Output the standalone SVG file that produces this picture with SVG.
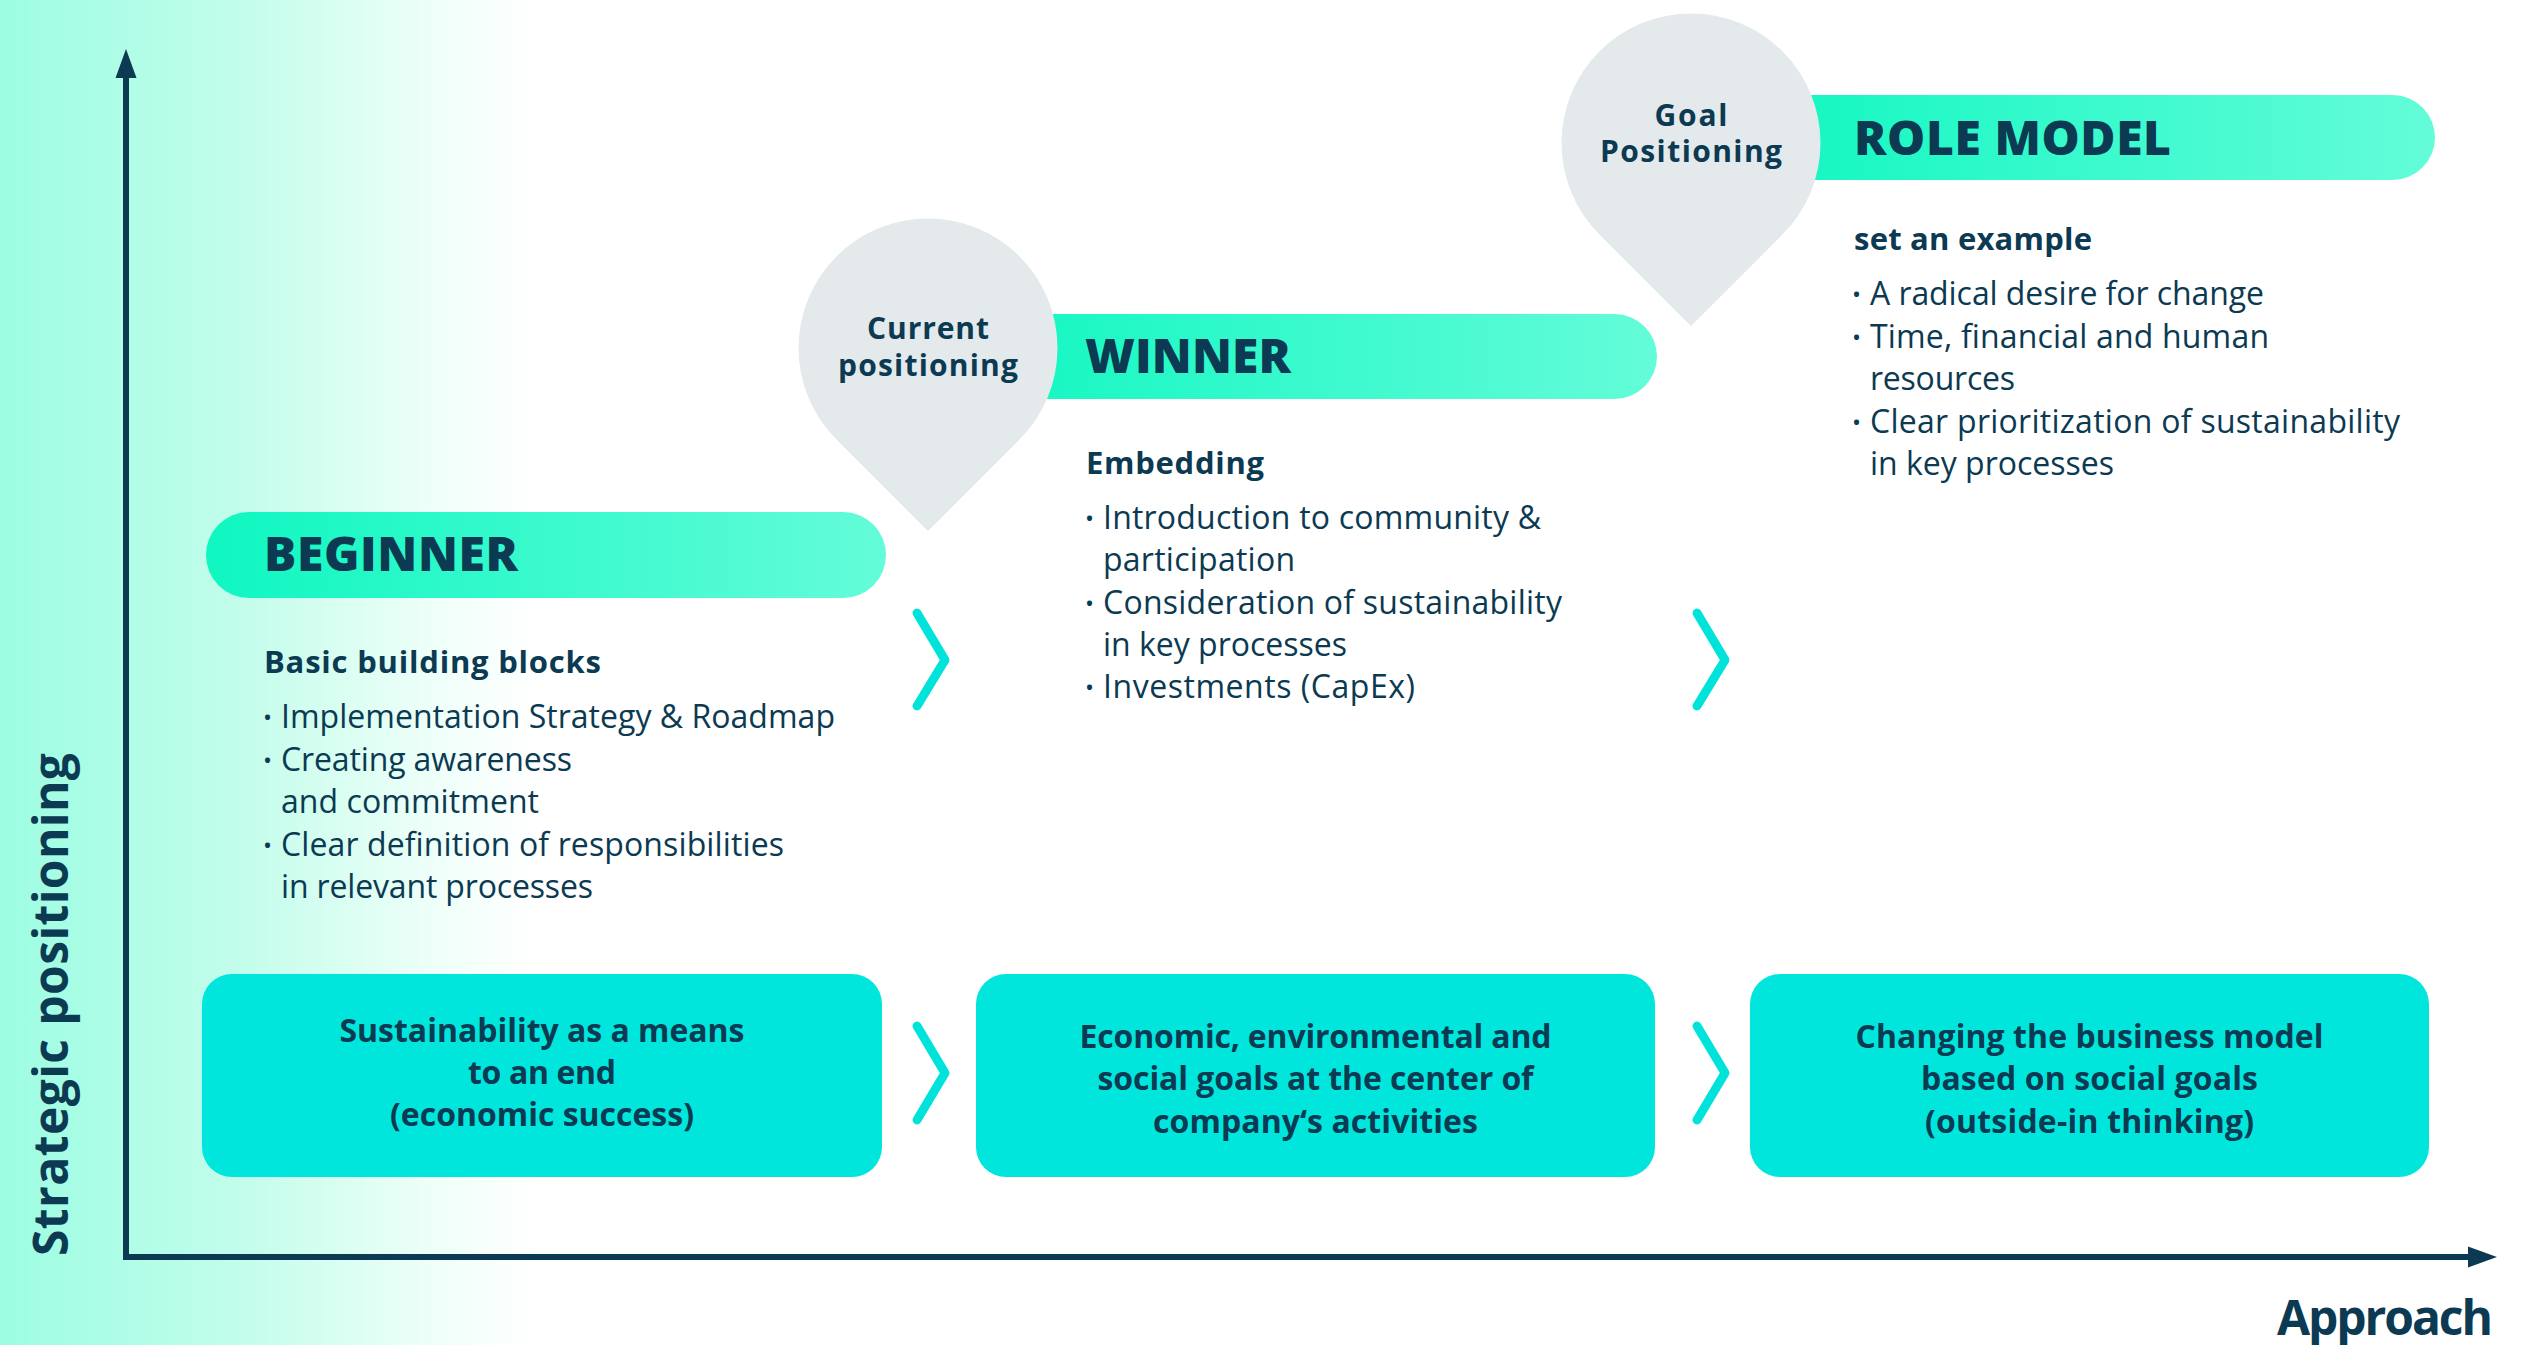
<svg xmlns="http://www.w3.org/2000/svg" width="2540" height="1345" viewBox="0 0 2540 1345">
<defs>
  <linearGradient id="bg" gradientUnits="userSpaceOnUse" x1="0" y1="0" x2="540" y2="0">
    <stop offset="0" stop-color="#9cfde2"/>
    <stop offset="0.45" stop-color="#c3fdeb"/>
    <stop offset="0.8" stop-color="#eefff9"/>
    <stop offset="1" stop-color="#ffffff"/>
  </linearGradient>
  <linearGradient id="pill" x1="0" y1="0" x2="1" y2="0">
    <stop offset="0" stop-color="#0ff7c1"/>
    <stop offset="1" stop-color="#64fcd9"/>
  </linearGradient>
  <marker id="ah" markerUnits="userSpaceOnUse" markerWidth="30" markerHeight="22" viewBox="0 -11 30 22" refX="1" refY="0" orient="auto">
    <path d="M0,-10.5 L29,0 L0,10.5 Z" fill="#0b3a52"/>
  </marker>
</defs>
<style>
  .t{fill:#0b3a52;font-family:'Open Sans','Noto Sans','Liberation Sans',sans-serif}
  .title{font-size:48px;font-weight:800}
  .head{font-size:31px;font-weight:700}
  .body{font-size:32px;font-weight:400}
  .dot{font-size:24px;font-weight:400}
  .box{font-size:32px;font-weight:700;text-anchor:middle}
  .pint{font-size:30px;font-weight:700;text-anchor:middle}
  .axl{font-size:48px;font-weight:700}
  .pillr{fill:url(#pill)}
  .pin{fill:#e4e9ec}
  .card{fill:#00e6dc}
  .chev{fill:none;stroke:#00e3da;stroke-width:9;stroke-linecap:round;stroke-linejoin:round}
  .axis{fill:none;stroke:#0b3a52;stroke-width:6}
</style>
<rect x="0" y="0" width="2540" height="1345" fill="#ffffff"/>
<rect x="0" y="0" width="540" height="1345" fill="url(#bg)"/>

<g id="axes">
  <path class="axis" d="M126,1260 L126,77" marker-end="url(#ah)"/>
  <path class="axis" d="M123,1257 L2469,1257" marker-end="url(#ah)"/>
  <text class="t axl" transform="translate(68,1256) rotate(-90)" x="0" y="0" textLength="503">Strategic positioning</text>
  <text class="t axl" x="2277" y="1335" font-size="45" textLength="216">Approach</text>
</g>

<g id="beginner">
  <rect class="pillr" x="206" y="512" width="680" height="86" rx="43"/>
  <text class="t title" x="264" y="571" textLength="254">BEGINNER</text>
  <text class="t head" x="264" y="673" textLength="337">Basic building blocks</text>
  <text class="t dot" x="263" y="726">•</text>
  <text class="t body" x="281" y="728" textLength="554">Implementation Strategy &amp; Roadmap</text>
  <text class="t dot" x="263" y="769">•</text>
  <text class="t body" x="281" y="771" textLength="291">Creating awareness</text>
  <text class="t body" x="281" y="813" textLength="258">and commitment</text>
  <text class="t dot" x="263" y="854">•</text>
  <text class="t body" x="281" y="856" textLength="503">Clear definition of responsibilities</text>
  <text class="t body" x="281" y="898" textLength="312">in relevant processes</text>
</g>

<g id="winner">
  <rect class="pillr" x="960" y="314" width="697" height="85" rx="42.5"/>
  <text class="t title" x="1085" y="373" textLength="206">WINNER</text>
  <text class="t head" x="1086" y="474" textLength="178">Embedding</text>
  <text class="t dot" x="1085" y="527">•</text>
  <text class="t body" x="1103" y="529" textLength="438">Introduction to community &amp;</text>
  <text class="t body" x="1103" y="571" textLength="192">participation</text>
  <text class="t dot" x="1085" y="612">•</text>
  <text class="t body" x="1103" y="614" textLength="459">Consideration of sustainability</text>
  <text class="t body" x="1103" y="656" textLength="244">in key processes</text>
  <text class="t dot" x="1085" y="696">•</text>
  <text class="t body" x="1103" y="698" textLength="312">Investments (CapEx)</text>
</g>

<g id="current-positioning">
  <path class="pin" d="M928,531 L836.5,439.6 A129.5,129.5 0 1 1 1019.5,439.6 Z"/>
  <text class="t pint" x="928" y="339" textLength="122">Current</text>
  <text class="t pint" x="928" y="376" textLength="180">positioning</text>
</g>

<g id="role-model">
  <rect class="pillr" x="1740" y="95" width="695" height="85" rx="42.5"/>
  <text class="t title" x="1854" y="155" textLength="317">ROLE MODEL</text>
  <text class="t head" x="1854" y="250" textLength="238">set an example</text>
  <text class="t dot" x="1852" y="303">•</text>
  <text class="t body" x="1870" y="305" textLength="394">A radical desire for change</text>
  <text class="t dot" x="1852" y="346">•</text>
  <text class="t body" x="1870" y="348" textLength="399">Time, financial and human</text>
  <text class="t body" x="1870" y="390" textLength="145">resources</text>
  <text class="t dot" x="1852" y="431">•</text>
  <text class="t body" x="1870" y="433" textLength="530">Clear prioritization of sustainability</text>
  <text class="t body" x="1870" y="475" textLength="244">in key processes</text>
</g>

<g id="goal-positioning">
  <path class="pin" d="M1691,326 L1599.5,234.6 A129.5,129.5 0 1 1 1782.5,234.6 Z"/>
  <text class="t pint" x="1691" y="126" textLength="73">Goal</text>
  <text class="t pint" x="1691" y="162" textLength="182">Positioning</text>
</g>

<g id="box-means">
  <rect class="card" x="202" y="974" width="680" height="203" rx="30"/>
  <text class="t box" x="542" y="1042" textLength="405">Sustainability as a means</text>
  <text class="t box" x="542" y="1084" textLength="148">to an end</text>
  <text class="t box" x="542" y="1126" textLength="304">(economic success)</text>
</g>

<g id="box-center">
  <rect class="card" x="976" y="974" width="679" height="203" rx="30"/>
  <text class="t box" x="1315.5" y="1048" textLength="472">Economic, environmental and</text>
  <text class="t box" x="1315.5" y="1090" textLength="436">social goals at the center of</text>
  <text class="t box" x="1315.5" y="1133" textLength="325">company‘s activities</text>
</g>

<g id="box-business">
  <rect class="card" x="1750" y="974" width="679" height="203" rx="30"/>
  <text class="t box" x="2089.5" y="1048" textLength="468">Changing the business model</text>
  <text class="t box" x="2089.5" y="1090" textLength="337">based on social goals</text>
  <text class="t box" x="2089.5" y="1133" textLength="329">(outside-in thinking)</text>
</g>

<g id="connectors">
  <polyline class="chev" points="917,613 945,660 917,706"/>
  <polyline class="chev" points="1697,613 1725,660 1697,706"/>
  <polyline class="chev" points="917,1026 945,1073 917,1120"/>
  <polyline class="chev" points="1697,1026 1725,1073 1697,1120"/>
</g>
</svg>
